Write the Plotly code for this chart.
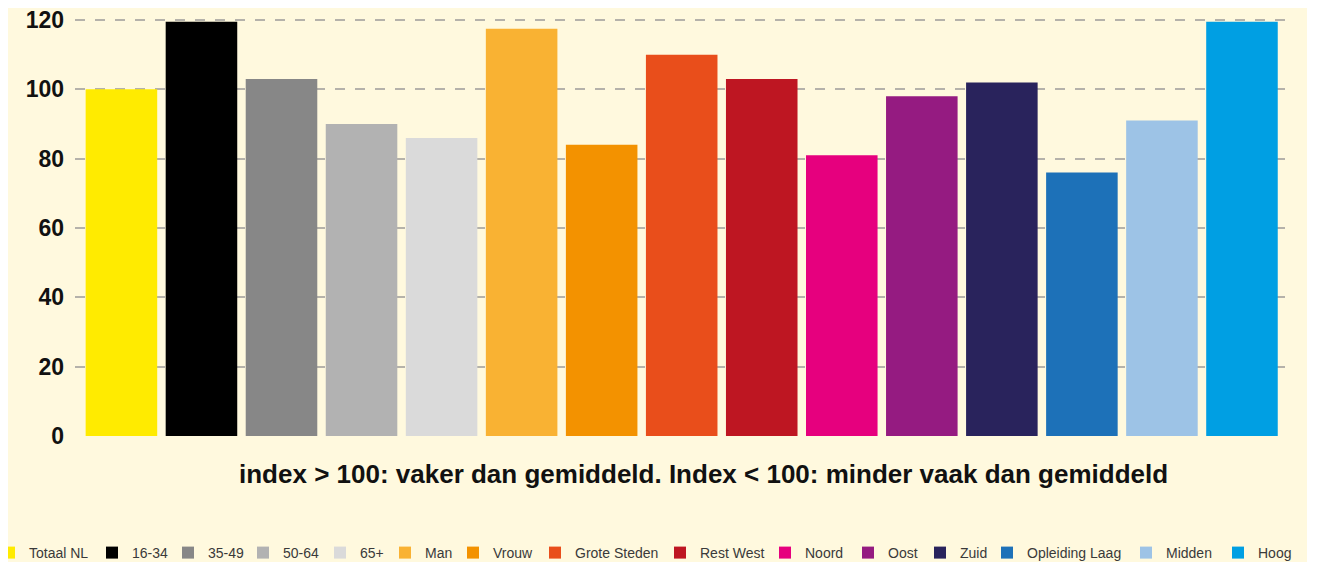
import plotly.graph_objects as go

categories = ["Totaal NL", "16-34", "35-49", "50-64", "65+", "Man", "Vrouw", "Grote Steden",
              "Rest West", "Noord", "Oost", "Zuid", "Opleiding Laag", "Midden", "Hoog"]
values = [100, 119.5, 103, 90, 86, 117.5, 84, 110, 103, 81, 98, 102, 76, 91, 119.5]
colors = ["#FFEB00", "#000000", "#878787", "#B2B2B2", "#DADADA", "#F9B233", "#F39200", "#E94E1B",
          "#BE1622", "#E6007E", "#951B81", "#29235C", "#1D71B8", "#9DC3E6", "#009FE3"]
y_ticks = [0, 20, 40, 60, 80, 100, 120]
subtitle = "index > 100: vaker dan gemiddeld. Index < 100: minder vaak dan gemiddeld"

# layout (figure pixels; page shows figure offset by 8px body margin)
W, H = 1299, 554
L, R, T, B = 67, 17, 11, 126
pw, ph = W - L - R, H - T - B
cream = "#FFF9DE"
legend_text_x = [29, 132, 208, 283, 360, 425, 493, 575, 700, 805, 888, 960, 1027, 1166, 1258]

fig = go.Figure()
legends = {}
for i, (c, v, col) in enumerate(zip(categories, values, colors)):
    key = "legend" if i == 0 else f"legend{i + 1}"
    fig.add_trace(go.Bar(x=[c], y=[v], name=c, marker=dict(color=col, line=dict(width=0)),
                         hoverinfo="x+y", legend=key, showlegend=True))
    fx = legend_text_x[i] - 8 - 40
    legends[key] = dict(orientation="h", x=(fx - L) / pw, xanchor="left",
                        y=(428 - 545) / ph, yanchor="middle",
                        font=dict(family="Liberation Sans, Arial, sans-serif", size=14, color="#3A3A3A"),
                        itemwidth=30, bgcolor="rgba(0,0,0,0)", borderwidth=0)

fig.update_layout(
    width=W, height=H,
    margin=dict(l=L, r=R, t=T, b=B, autoexpand=False),
    paper_bgcolor=cream, plot_bgcolor=cream,
    barmode="relative", bargap=0.106,
    showlegend=True,
    xaxis=dict(showticklabels=False, showgrid=False, zeroline=False, showline=False,
               categoryorder="array", categoryarray=categories, range=[-0.58, 14.6]),
    yaxis=dict(range=[0, 120.3], tickvals=y_ticks, showgrid=True, gridcolor="#B5B2AA",
               griddash="10px,10px", gridwidth=2, zeroline=False, showline=False,
               tickfont=dict(family="Liberation Sans, Arial, sans-serif", size=23, color="#111111",
                             weight="bold"), ticklabelstandoff=10, ticklabeloverflow="allow"),
    font=dict(family="Liberation Sans, Arial, sans-serif"),
    annotations=[dict(text="<b>" + subtitle + "</b>", xref="paper", yref="paper",
                      x=(695 - L) / pw, y=(428 - 466) / ph, xanchor="center", yanchor="middle",
                      showarrow=False, font=dict(size=26, color="#111111"))],
    **legends,
)

fig.write_html("out.html")
